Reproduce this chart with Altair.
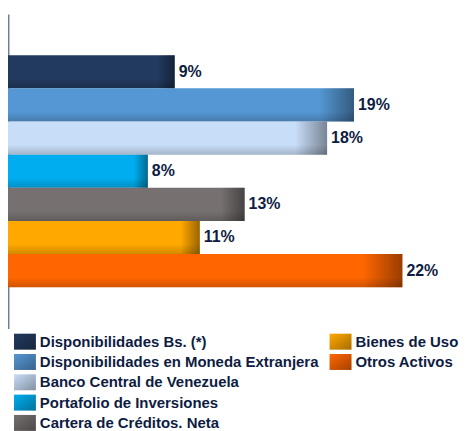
import altair as alt
import pandas as pd

categories = [
    "Disponibilidades Bs. (*)",
    "Disponibilidades en Moneda Extranjera",
    "Banco Central de Venezuela",
    "Portafolio de Inversiones",
    "Cartera de Créditos. Neta",
    "Bienes de Uso",
    "Otros Activos",
]
values = [9.3, 19.3, 17.8, 7.8, 13.2, 10.7, 22.0]
labels = ["9%", "19%", "18%", "8%", "13%", "11%", "22%"]
colors = ["#223a5e", "#5597d4", "#c8ddf8", "#00aeef", "#767070", "#ffa800", "#ff6600"]
legend_col = [0, 0, 0, 0, 0, 1, 1]
legend_row = [0, 1, 2, 3, 4, 0, 1]

df = pd.DataFrame({"cat": categories, "value": values, "label": labels,
                   "col": legend_col, "row": legend_row})

FONT = "Liberation Sans"
NAVY = "#0e1c42"

color = alt.Color("cat:N", scale=alt.Scale(domain=categories, range=colors), legend=None)

# blank slots above and below the bars give the empty space along the axis
y_domain = [" "] + categories + ["  "]
y = alt.Y("cat:N",
          scale=alt.Scale(domain=y_domain, paddingInner=0, paddingOuter=0.246),
          axis=alt.Axis(title=None, labels=False, ticks=False, grid=False,
                        domain=True, domainColor="#6f7f9f", domainWidth=2))
x = alt.X("value:Q", scale=alt.Scale(domain=[0, 23.88]), axis=None)

base = alt.Chart(df).encode(y=y, x=x)

bars = base.mark_bar(strokeWidth=0).encode(color=color)

shade_h = base.mark_bar(color=alt.Gradient(
    gradient="linear", x1=0, x2=1, y1=0, y2=0,
    stops=[alt.GradientStop(color="rgba(0,0,0,0)", offset=0),
           alt.GradientStop(color="rgba(0,0,0,0)", offset=0.9),
           alt.GradientStop(color="rgba(0,0,0,0.40)", offset=1)]))

shade_v = base.mark_bar(color=alt.Gradient(
    gradient="linear", x1=0, x2=0, y1=0, y2=1,
    stops=[alt.GradientStop(color="rgba(0,0,0,0)", offset=0),
           alt.GradientStop(color="rgba(0,0,0,0)", offset=0.7),
           alt.GradientStop(color="rgba(0,0,0,0.18)", offset=1)]))

text = base.mark_text(align="left", baseline="middle", dx=4, font=FONT,
                      fontWeight="bold", fontSize=16, color=NAVY).encode(text="label:N")

top = (bars + shade_h + shade_v + text).properties(width=430, height=316)

lx = alt.X("col:Q", scale=alt.Scale(domain=[0, 1], range=[17, 334]), axis=None)
ly = alt.Y("row:O", scale=alt.Scale(paddingInner=0, paddingOuter=0), axis=None)
lbase = alt.Chart(df).encode(x=lx, y=ly)

swatch_shape = "M-1.375,-1H1.375V1H-1.375Z"
sw = lbase.mark_point(shape=swatch_shape, filled=True, size=256, opacity=1,
                      strokeWidth=0).encode(color=color)
sw_shade = lbase.mark_point(shape=swatch_shape, filled=True, size=256, opacity=1,
                            strokeWidth=0,
                            color=alt.Gradient(
                                gradient="linear", x1=0, x2=1, y1=0, y2=1,
                                stops=[alt.GradientStop(color="rgba(0,0,0,0)", offset=0),
                                       alt.GradientStop(color="rgba(0,0,0,0.35)", offset=1)]))
ltext = lbase.mark_text(align="left", baseline="middle", dx=15, font=FONT,
                        fontWeight="bold", fontSize=15, color=NAVY).encode(text="cat:N")

legend = (sw + sw_shade + ltext).properties(width=430, height=102)

chart = alt.vconcat(top, legend, spacing=3).properties(
    padding={"left": 0, "top": 5, "right": 0, "bottom": 0}
).configure_view(stroke=None)

chart.save("out.html", embed_options={"renderer": "svg", "actions": False})
